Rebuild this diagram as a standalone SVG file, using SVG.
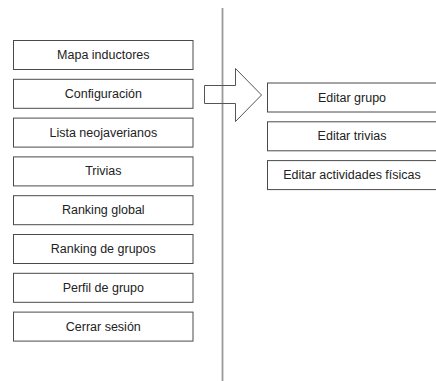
<svg xmlns="http://www.w3.org/2000/svg" width="436" height="381" viewBox="0 0 436 381">
<style>
.box{fill:#fff;stroke:#4a4a4a;stroke-width:1}
.lbl{font-family:"Liberation Sans",Arial,sans-serif;font-size:12.5px;fill:#222;text-anchor:middle;dominant-baseline:central}
.div{stroke:#9a9a9a;stroke-width:1.8;fill:none}
.arr{fill:none;stroke:#555;stroke-width:1}
</style>
<rect width="436" height="381" fill="#fff"/>
<line class="div" x1="222.5" y1="8" x2="222.5" y2="381"/>
<g id="n1"><rect class="box" x="13.5" y="40.5" width="179.5" height="29"/><text class="lbl" x="103.3" y="55">Mapa inductores</text></g>
<g id="n2"><rect class="box" x="13.5" y="79.3" width="179.5" height="29"/><text class="lbl" x="103.3" y="93.8">Configuración</text></g>
<g id="n3"><rect class="box" x="13.5" y="118.1" width="179.5" height="29"/><text class="lbl" x="103.3" y="132.6">Lista neojaverianos</text></g>
<g id="n4"><rect class="box" x="13.5" y="156.9" width="179.5" height="29"/><text class="lbl" x="103.3" y="171.4">Trivias</text></g>
<g id="n5"><rect class="box" x="13.5" y="195.7" width="179.5" height="29"/><text class="lbl" x="103.3" y="210.2">Ranking global</text></g>
<g id="n6"><rect class="box" x="13.5" y="234.5" width="179.5" height="29"/><text class="lbl" x="103.3" y="249">Ranking de grupos</text></g>
<g id="n7"><rect class="box" x="13.5" y="273.3" width="179.5" height="29"/><text class="lbl" x="103.3" y="287.8">Perfil de grupo</text></g>
<g id="n8"><rect class="box" x="13.5" y="312.1" width="179.5" height="29"/><text class="lbl" x="103.3" y="326.6">Cerrar sesión</text></g>
<g id="n9"><rect class="box" x="267.5" y="83" width="180" height="29"/><text class="lbl" x="352" y="97.5">Editar grupo</text></g>
<g id="n10"><rect class="box" x="267.5" y="121.8" width="180" height="29"/><text class="lbl" x="352" y="136.3">Editar trivias</text></g>
<g id="n11"><rect class="box" x="267.5" y="160.6" width="180" height="29"/><text class="lbl" x="352" y="175.1">Editar actividades físicas</text></g>
<g id="connectors">
<polygon class="arr" points="204.5,85.5 235.5,85.5 235.5,68.5 261.5,95 235.5,121.5 235.5,103.5 204.5,103.5"/>
</g>
</svg>
